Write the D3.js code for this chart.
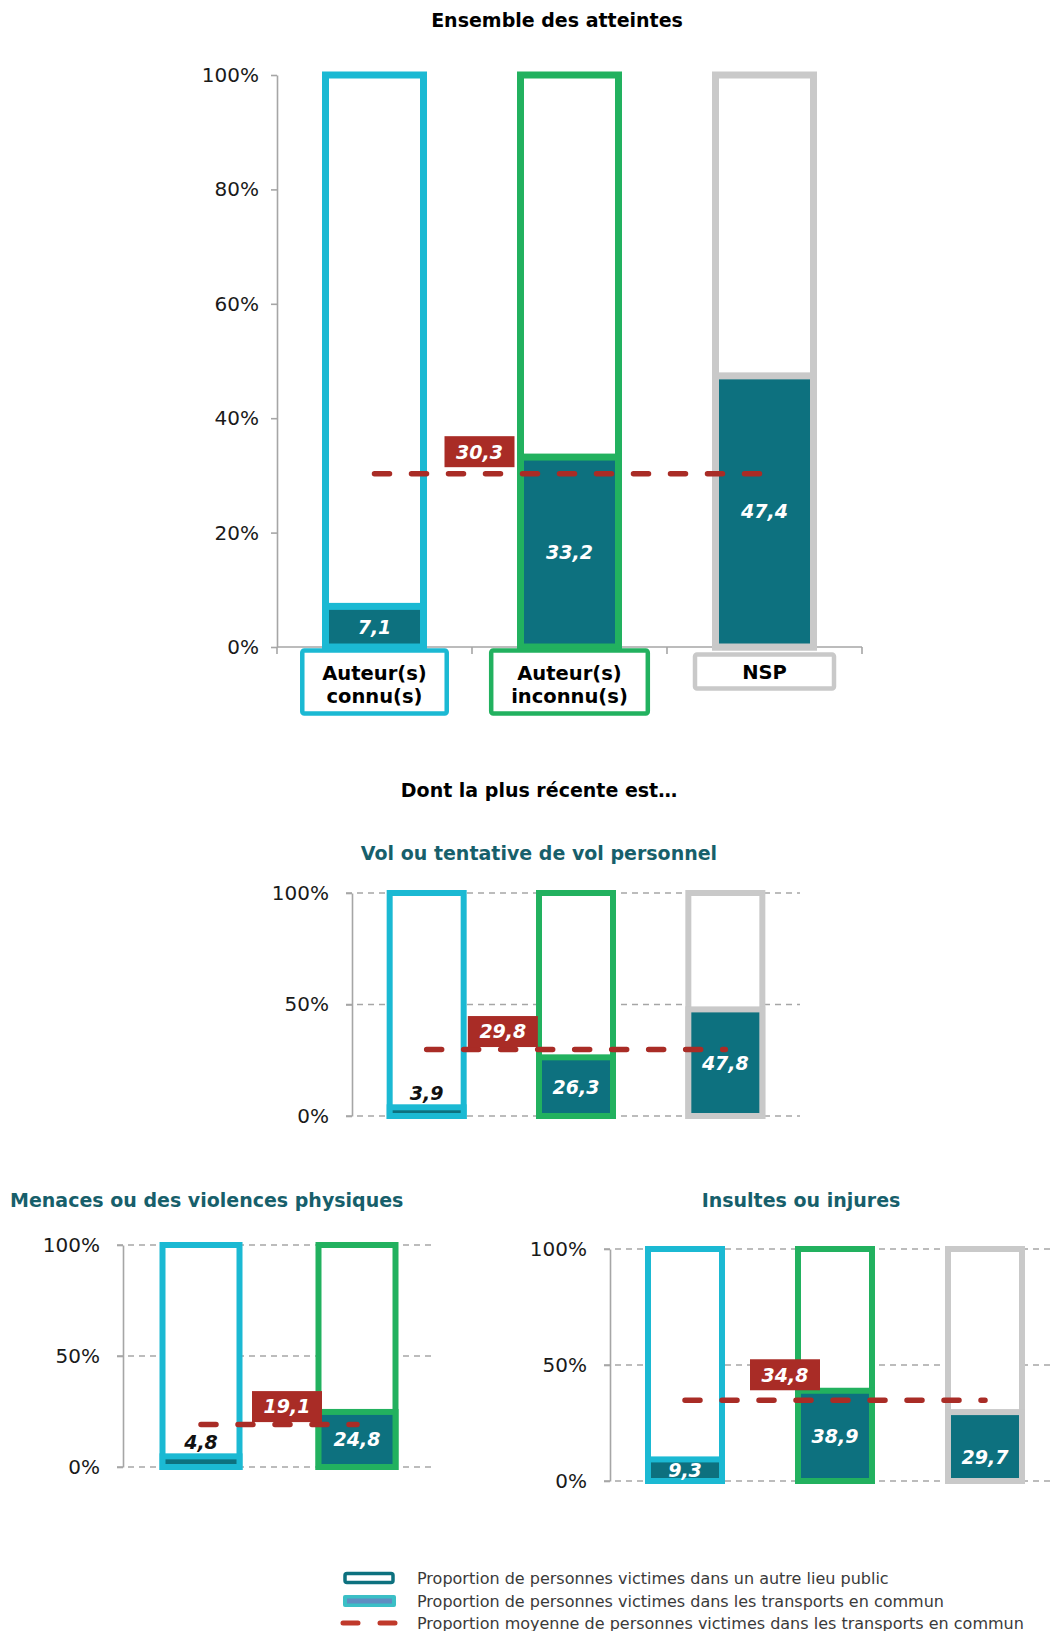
<!DOCTYPE html>
<html lang="fr">
<head>
<meta charset="utf-8">
<title>Victimes dans les transports en commun selon l'auteur</title>
<script src="https://cdn.jsdelivr.net/npm/d3@7"></script>
<style>
  html, body { margin: 0; padding: 0; background: #ffffff; }
  svg { display: block; font-family: "DejaVu Sans", Verdana, sans-serif; }
</style>
</head>
<body>
<svg id="chart" width="1052" height="1631"></svg>
<script>
// ---- Data ------------------------------------------------------------
const categories = ["Auteur(s) connu(s)", "Auteur(s) inconnu(s)", "NSP"];
const categoryLines = [["Auteur(s)", "connu(s)"], ["Auteur(s)", "inconnu(s)"], ["NSP"]];

// share of victims in public transport (%), by type of offender
const ensembleValues = [7.1, 33.2, 47.4];
const ensembleMean = 30.3;

const volValues = [3.9, 26.3, 47.8];
const volMean = 29.8;

const menacesCategories = ["Auteur(s) connu(s)", "Auteur(s) inconnu(s)"];
const menacesValues = [4.8, 24.8];
const menacesMean = 19.1;

const insultesValues = [9.3, 38.9, 29.7];
const insultesMean = 34.8;

const ensembleTicks = [0, 20, 40, 60, 80, 100];
const panelTicks = [0, 50, 100];

const legendLabels = [
  "Proportion de personnes victimes dans un autre lieu public",
  "Proportion de personnes victimes dans les transports en commun",
  "Proportion moyenne de personnes victimes dans les transports en commun"
];

// ---- Styles ----------------------------------------------------------
const catColor = {
  "Auteur(s) connu(s)": "#1bb9d3",
  "Auteur(s) inconnu(s)": "#22b15f",
  "NSP": "#c9c9c9"
};
const TEAL = "#0d717f";
const RED = "#a92c26";
const AXIS = "#a6a6a6";
const SUBTITLE = "#175f6b";

const fr = d3.formatLocale({ decimal: ",", thousands: " ", grouping: [3], currency: ["", " €"] });
const fmtVal = fr.format(".1f");
const fmtPct = v => v + "%";

const svg = d3.select("#chart");

// ---- Panel renderer ----------------------------------------------------
function drawPanel(p) {
  const g = svg.append("g");
  const y = d3.scaleLinear().domain([0, 100]).range([p.y0, p.y100]);
  const x = d3.scaleBand().domain(p.categories).range([p.left, p.right]);
  const center = c => x(c) + x.bandwidth() / 2;
  const gw = p.barWidth - p.sw;

  // horizontal dashed grid
  if (p.grid) {
    g.append("g").selectAll("line").data(p.ticks).join("line")
      .attr("x1", p.left - 6).attr("x2", p.gridRight)
      .attr("y1", d => y(d)).attr("y2", d => y(d))
      .attr("stroke", AXIS).attr("stroke-width", 1.6)
      .attr("stroke-dasharray", "6 5");
  }

  // y axis
  const yAxis = d3.axisLeft(y).tickValues(p.ticks).tickFormat(fmtPct)
    .tickSize(6).tickSizeOuter(0).tickPadding(p.tickPadding);
  const ya = g.append("g").attr("transform", `translate(${p.left},0)`).call(yAxis);
  ya.select(".domain").attr("stroke", AXIS).attr("stroke-width", 1.6);
  ya.selectAll(".tick line").attr("stroke", AXIS).attr("stroke-width", 1.6);
  ya.selectAll(".tick text").attr("fill", "#1a1a1a")
    .style("font-size", "20px").style("font-family", "'DejaVu Sans', Verdana, sans-serif");

  // x baseline with band-edge ticks (main panel only)
  if (p.baseline) {
    g.append("line").attr("x1", p.left).attr("x2", p.right)
      .attr("y1", p.y0).attr("y2", p.y0)
      .attr("stroke", AXIS).attr("stroke-width", 1.6);
    const edges = p.categories.map(c => x(c)).concat([p.right]);
    g.append("g").selectAll("line").data(edges).join("line")
      .attr("x1", d => d).attr("x2", d => d)
      .attr("y1", p.y0).attr("y2", p.y0 + 7)
      .attr("stroke", AXIS).attr("stroke-width", 1.6);
  }

  const rows = p.categories.map((c, i) => ({ c, v: p.values[i], i }));

  // full-height outlined column (other public place)
  g.append("g").selectAll("rect").data(rows).join("rect")
    .attr("x", d => center(d.c) - gw / 2)
    .attr("y", y(100))
    .attr("width", gw)
    .attr("height", y(0) - y(100))
    .attr("fill", "#ffffff")
    .attr("stroke", d => catColor[d.c])
    .attr("stroke-width", p.sw);

  // filled part (public transport)
  g.append("g").selectAll("rect").data(rows).join("rect")
    .attr("x", d => center(d.c) - gw / 2)
    .attr("y", d => y(d.v))
    .attr("width", gw)
    .attr("height", d => y(0) - y(d.v))
    .attr("fill", TEAL)
    .attr("stroke", d => catColor[d.c])
    .attr("stroke-width", p.sw);

  // value labels
  g.append("g").selectAll("text").data(rows).join("text")
    .attr("x", d => center(d.c))
    .attr("y", d => {
      const h = y(0) - y(d.v);
      if (h < 18) return y(d.v) - 14;
      return (y(d.v) + y(0)) / 2 + (p.labelShift ? p.labelShift[d.i] : 0);
    })
    .attr("dy", "0.36em")
    .attr("text-anchor", "middle")
    .attr("fill", d => (y(0) - y(d.v) < 18 ? "#111111" : "#ffffff"))
    .style("font-size", "19px").style("font-weight", "bold").style("font-style", "italic")
    .text(d => fmtVal(d.v));

  // mean line (public transport average)
  const first = p.categories[0], last = p.categories[p.categories.length - 1];
  const line = d3.line();
  g.append("path")
    .attr("d", line([[center(first), y(p.mean)], [center(last), y(p.mean)]]))
    .attr("fill", "none").attr("stroke", RED).attr("stroke-width", 5.5)
    .attr("stroke-linecap", "round").attr("stroke-dasharray", "15 22");

  // mean label
  const bx = x(p.categories[1]) + p.meanLabel.dx;
  const by = y(p.mean) + p.meanLabel.dy;
  const mw = 70, mh = 31;
  g.append("rect").attr("x", bx - mw / 2).attr("y", by - mh).attr("width", mw).attr("height", mh)
    .attr("fill", RED);
  g.append("text").attr("x", bx).attr("y", by - mh / 2).attr("dy", "0.36em")
    .attr("text-anchor", "middle").attr("fill", "#ffffff")
    .style("font-size", "19px").style("font-weight", "bold").style("font-style", "italic")
    .text(fmtVal(p.mean));

  // category label boxes
  if (p.catLabels) {
    rows.forEach(d => {
      const lines = categoryLines[d.i];
      const gl = g.append("g");
      const top = p.y0 + (lines.length > 1 ? 3.5 : 7.5);
      const h = lines.length > 1 ? 63 : 34;
      const rect = gl.append("rect");
      const t = gl.append("text").attr("text-anchor", "middle").attr("fill", "#000")
        .style("font-size", "19.5px").style("font-weight", "bold");
      lines.forEach((s, k) => {
        t.append("tspan").attr("x", center(d.c))
          .attr("y", top + (lines.length > 1 ? 22 + k * 23 : 17.5))
          .attr("dy", "0.36em").text(s);
      });
      const w = Math.max(t.node().getBBox().width + 40, 139);
      rect.attr("x", center(d.c) - w / 2).attr("y", top).attr("width", w).attr("height", h)
        .attr("rx", 2).attr("fill", "#ffffff")
        .attr("stroke", catColor[d.c]).attr("stroke-width", 4.5);
    });
  }
}

// ---- Titles ----------------------------------------------------------
function title(txt, x, yy, anchor, color) {
  svg.append("text").attr("x", x).attr("y", yy).attr("dy", "0.36em")
    .attr("text-anchor", anchor).attr("fill", color)
    .style("font-size", "19px").style("font-weight", "bold").text(txt);
}

title("Ensemble des atteintes", 557, 20, "middle", "#000000");
title("Dont la plus récente est…", 539, 790, "middle", "#000000");
title("Vol ou tentative de vol personnel", 539, 853, "middle", SUBTITLE);
title("Menaces ou des violences physiques", 10, 1200, "start", SUBTITLE);
title("Insultes ou injures", 801, 1200, "middle", SUBTITLE);

// ---- Panels ----------------------------------------------------------
drawPanel({
  categories, values: ensembleValues, mean: ensembleMean, ticks: ensembleTicks,
  left: 277, right: 862, y100: 75, y0: 647, barWidth: 105, sw: 7, tickPadding: 12,
  grid: false, baseline: true, catLabels: true,
  meanLabel: { dx: 7.5, dy: -6.5 }
});

drawPanel({
  categories, values: volValues, mean: volMean, ticks: panelTicks,
  left: 352, right: 800, y100: 893, y0: 1116, barWidth: 80, sw: 6, tickPadding: 17,
  grid: true, gridRight: 800, meanLabel: { dx: 1.5, dy: -2.5 }
});

drawPanel({
  categories: menacesCategories, values: menacesValues, mean: menacesMean, ticks: panelTicks,
  left: 123, right: 435, y100: 1245, y0: 1467, barWidth: 83, sw: 6, tickPadding: 17,
  grid: true, gridRight: 435, meanLabel: { dx: 8, dy: -2.5 }
});

drawPanel({
  categories, values: insultesValues, mean: insultesMean, ticks: panelTicks,
  left: 610, right: 1060, y100: 1249, y0: 1481, barWidth: 80, sw: 6, tickPadding: 17,
  grid: true, gridRight: 1052, meanLabel: { dx: 25, dy: -10 },
  labelShift: [0, 0, 11]
});

// ---- Legend ----------------------------------------------------------
const legend = svg.append("g");
const legendY = [1578, 1601, 1623];
legendLabels.forEach((txt, i) => {
  const yy = legendY[i];
  if (i === 0) {
    legend.append("rect").attr("x", 345).attr("y", yy - 4.5).attr("width", 48).attr("height", 9)
      .attr("rx", 2).attr("fill", "#ffffff").attr("stroke", TEAL).attr("stroke-width", 3.5);
  } else if (i === 1) {
    legend.append("rect").attr("x", 343).attr("y", yy - 6).attr("width", 53).attr("height", 12)
      .attr("rx", 2).attr("fill", "#3bbfc6");
    legend.append("rect").attr("x", 347).attr("y", yy - 2.5).attr("width", 45).attr("height", 5)
      .attr("fill", "#5f8ec2");
  } else {
    legend.append("path").attr("d", d3.line()([[343, yy], [395, yy]]))
      .attr("stroke", "#c0392b").attr("stroke-width", 5).attr("stroke-linecap", "round")
      .attr("stroke-dasharray", "15 22");
  }
  legend.append("text").attr("x", 417).attr("y", yy).attr("dy", "0.36em")
    .attr("fill", "#3a3a3a").style("font-size", "16px").text(txt);
});
</script>
</body>
</html>
